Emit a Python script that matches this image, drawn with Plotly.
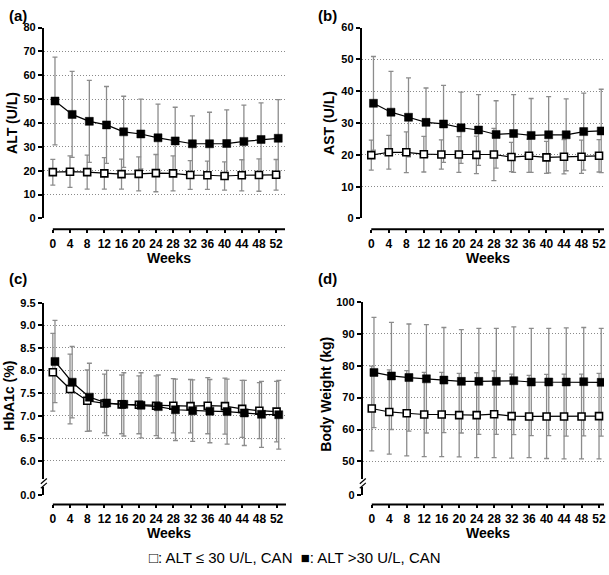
import plotly.graph_objects as go

# ---------------- data ----------------
weeks = [0, 4, 8, 12, 16, 20, 24, 28, 32, 36, 40, 44, 48, 52]

alt_low_mean = [19.4, 19.6, 19.4, 18.9, 18.6, 18.7, 19.0, 18.9, 18.2, 18.1, 17.8, 18.1, 18.2, 18.3]
alt_low_sd = [5.4, 6.6, 7.1, 6.6, 6.3, 7.1, 7.8, 7.3, 6.0, 5.9, 5.9, 6.5, 6.8, 6.4]
alt_high_mean = [49.2, 43.6, 40.7, 39.2, 36.3, 35.4, 33.8, 32.5, 31.3, 31.3, 31.4, 32.3, 33.1, 33.6]
alt_high_sd = [18.4, 18.0, 17.2, 16.1, 14.9, 14.6, 14.1, 14.1, 11.7, 13.2, 14.1, 15.2, 15.3, 16.2]

ast_low_mean = [19.9, 20.8, 20.8, 20.2, 20.1, 20.1, 20.0, 20.1, 19.3, 19.7, 19.2, 19.4, 19.4, 19.7]
ast_low_sd = [4.7, 5.3, 6.4, 5.6, 4.6, 5.6, 5.9, 8.2, 4.6, 5.2, 5.0, 5.4, 5.2, 5.1]
ast_high_mean = [36.2, 33.4, 31.8, 30.2, 29.7, 28.5, 27.8, 26.4, 26.7, 26.1, 26.3, 26.3, 27.3, 27.5]
ast_high_sd = [14.7, 12.8, 12.4, 10.8, 12.1, 11.2, 11.1, 10.6, 12.2, 11.6, 12.0, 11.3, 12.1, 13.1]

hba_low_mean = [7.96, 7.59, 7.33, 7.27, 7.25, 7.24, 7.22, 7.22, 7.21, 7.22, 7.21, 7.15, 7.11, 7.09]
hba_low_sd = [0.86, 0.77, 0.68, 0.65, 0.65, 0.64, 0.66, 0.60, 0.59, 0.62, 0.62, 0.63, 0.62, 0.67]
hba_high_mean = [8.20, 7.74, 7.41, 7.28, 7.25, 7.23, 7.20, 7.13, 7.11, 7.10, 7.09, 7.06, 7.03, 7.02]
hba_high_sd = [0.91, 0.79, 0.75, 0.72, 0.70, 0.72, 0.70, 0.68, 0.68, 0.70, 0.72, 0.72, 0.73, 0.76]

bw_low_mean = [66.6, 65.5, 65.1, 64.7, 64.7, 64.5, 64.5, 64.8, 64.2, 64.1, 64.1, 64.1, 64.1, 64.2]
bw_low_sd = [13.3, 13.2, 13.4, 13.2, 13.2, 13.1, 13.3, 13.6, 13.2, 12.9, 13.2, 13.3, 13.3, 13.4]
bw_high_mean = [77.9, 76.8, 76.3, 75.9, 75.5, 75.1, 75.1, 75.1, 75.3, 74.9, 74.9, 74.9, 75.0, 74.8]
bw_high_sd = [17.3, 16.8, 16.8, 17.0, 16.5, 16.2, 16.6, 16.6, 16.9, 16.8, 16.8, 17.0, 17.0, 16.9]

panel_letters = ["(a)", "(b)", "(c)", "(d)"]
y_titles = ["ALT (U/L)", "AST (U/L)", "HbA1c (%)", "Body Weight (kg)"]
x_title = "Weeks"
legend_text = "\u25a1: ALT \u2264 30 U/L, CAN  \u25a0: ALT >30 U/L, CAN"

# ---------------- layout geometry (pixels) ----------------
W, H = 609, 575
def px(x):
    return x / W
def py(y):
    return 1 - y / H

FONT = "Liberation Sans, Arial, sans-serif"
BLACK_DODGE = 0.5  # black series drawn slightly right of white, as in the reference
ERR_COLOR = "#8c8c8c"
GRID_COLOR = "#8a8a8a"
XTICK_SIZE = 12
YTICK_SIZE = 11
TITLE_SIZE = 14

panels = [
    dict(low=(alt_low_mean, alt_low_sd), high=(alt_high_mean, alt_high_sd),
         yx=44, t0=53, t52=277, right=286, ytop=22, ybot=217, xax=228,
         yrange=[0, 80], ticks=list(range(0, 81, 10)), grid=list(range(10, 81, 10)), fmt=None, brk=False),
    dict(low=(ast_low_mean, ast_low_sd), high=(ast_high_mean, ast_high_sd),
         yx=363, t0=372.5, t52=601, right=606, ytop=22, ybot=217, xax=228,
         yrange=[0, 60], ticks=list(range(0, 61, 10)), grid=list(range(10, 61, 10)), fmt=None, brk=False),
    dict(low=(hba_low_mean, hba_low_sd), high=(hba_high_mean, hba_high_sd),
         yx=44, t0=53, t52=277.5, right=287, ytop=303, ybot=483, xax=509,
         yrange=[5.6, 9.5], ticks=[6.0, 6.5, 7.0, 7.5, 8.0, 8.5, 9.0, 9.5],
         grid=[6.0, 6.5, 7.0, 7.5, 8.0, 8.5, 9.0, 9.5], fmt=".1f", brk=True, zero="0.0"),
    dict(low=(bw_low_mean, bw_low_sd), high=(bw_high_mean, bw_high_sd),
         yx=364, t0=373, t52=601, right=606, ytop=302.3, ybot=483, xax=509,
         yrange=[44.5, 100], ticks=list(range(50, 101, 10)), grid=list(range(50, 101, 10)), fmt=None, brk=True, zero="0"),
]

fig = go.Figure()
layout = dict(width=W, height=H, autosize=False, margin=dict(l=0, r=0, t=0, b=0),
              plot_bgcolor="white", paper_bgcolor="white", showlegend=False,
              font=dict(family=FONT, color="black"))
shapes = []
annotations = []

extra_axis = 5
for i, p in enumerate(panels):
    n = i + 1
    xa = "x" if n == 1 else f"x{n}"
    ya = "y" if n == 1 else f"y{n}"
    xkey = "xaxis" if n == 1 else f"xaxis{n}"
    ykey = "yaxis" if n == 1 else f"yaxis{n}"
    ppw = (p["t52"] - p["t0"]) / 52.0
    xmin = -(p["t0"] - p["yx"]) / ppw
    xmax = 52 + (p["right"] - p["t52"]) / ppw

    layout[xkey] = dict(domain=[px(p["yx"]), px(p["right"])], range=[xmin, xmax],
                        anchor="free", position=py(p["xax"]), showline=False, showgrid=False,
                        zeroline=False, tickvals=weeks, ticks="outside", ticklen=3, tickwidth=1.5,
                        tickcolor="black", ticklabeloverflow="allow",
                        tickfont=dict(family=FONT, size=XTICK_SIZE, weight="bold"))
    layout[ykey] = dict(domain=[py(p["ybot"]), py(p["ytop"])], range=p["yrange"], anchor=xa,
                        showline=True, linewidth=2, linecolor="black", zeroline=False,
                        showgrid=False, tickvals=p["ticks"], ticks="outside", ticklen=4,
                        tickwidth=1.5, tickcolor="black",
                        tickfont=dict(family=FONT, size=YTICK_SIZE, weight="bold"))
    if p["fmt"]:
        layout[ykey]["tickformat"] = p["fmt"]

    # overlay axis carrying the dotted grid lines only
    gk = f"yaxis{extra_axis}"
    gref = f"y{extra_axis}"
    extra_axis += 1
    layout[gk] = dict(domain=[py(p["ybot"]), py(p["ytop"])], range=p["yrange"], anchor=xa,
                      overlaying=ya, matches=ya, showline=False, zeroline=False,
                      showticklabels=False, ticks="", tickvals=p["grid"], showgrid=True,
                      gridcolor=GRID_COLOR, gridwidth=1, griddash="1px,2px")
    fig.add_trace(go.Scatter(x=[None], y=[None], xaxis=xa, yaxis=gref, hoverinfo="skip"))

    # x axis line starting at week 0 (offset Prism-style axis)
    shapes.append(dict(type="line", xref=xa, yref="paper", x0=0, x1=xmax,
                       y0=py(p["xax"]), y1=py(p["xax"]), line=dict(color="black", width=2)))

    if p["brk"]:
        sk = f"yaxis{extra_axis}"
        sref = f"y{extra_axis}"
        extra_axis += 1
        layout[sk] = dict(domain=[py(499.5), py(491)], range=[0, 1], anchor=xa,
                          showline=True, linewidth=2, linecolor="black", zeroline=False,
                          showgrid=False, tickvals=[0], ticktext=[p["zero"]], ticks="outside",
                          ticklen=4, tickwidth=1.5, tickcolor="black",
                          tickfont=dict(family=FONT, size=YTICK_SIZE, weight="bold"))
        fig.add_trace(go.Scatter(x=[None], y=[None], xaxis=xa, yaxis=sref, hoverinfo="skip"))
        # axis break marks
        bx = p["yx"]
        for dy in (0, 4.5):
            shapes.append(dict(type="line", xref="paper", yref="paper",
                               x0=px(bx - 3), y0=py(488 + dy), x1=px(bx + 3), y1=py(482.5 + dy),
                               line=dict(color="black", width=1.2)))

    lo_m, lo_s = p["low"]
    hi_m, hi_s = p["high"]
    xb = [w + BLACK_DODGE for w in weeks]
    # error bars first (behind markers)
    for xs, m, s in ((weeks, lo_m, lo_s), (xb, hi_m, hi_s)):
        fig.add_trace(go.Scatter(x=xs, y=m, mode="markers", xaxis=xa, yaxis=ya,
                                 marker=dict(size=1, color="rgba(0,0,0,0)"),
                                 error_y=dict(type="data", array=s, visible=True, color=ERR_COLOR,
                                              thickness=1.3, width=2.5),
                                 hoverinfo="skip"))
    fig.add_trace(go.Scatter(x=weeks, y=lo_m, mode="lines+markers", xaxis=xa, yaxis=ya,
                             line=dict(color="black", width=1.2),
                             marker=dict(symbol="square", size=7, color="white",
                                         line=dict(color="black", width=1.6))))
    fig.add_trace(go.Scatter(x=xb, y=hi_m, mode="lines+markers", xaxis=xa, yaxis=ya,
                             line=dict(color="black", width=1.2),
                             marker=dict(symbol="square", size=8, color="black",
                                         line=dict(color="black", width=0.5))))

    # text
    col_left = 7 if i % 2 == 0 else 317
    top = 10 if i < 2 else 278
    annotations.append(dict(text=f"<b>{panel_letters[i]}</b>", xref="paper", yref="paper",
                            x=px(col_left), y=py(top), xanchor="left", yanchor="middle",
                            showarrow=False, font=dict(family=FONT, size=15)))
    ytx = [12, 330, 9, 327][i]
    yty = [119.5, 119.5, 398, 396][i]
    annotations.append(dict(text=f"<b>{y_titles[i]}</b>", xref="paper", yref="paper",
                            x=px(ytx), y=py(yty), xanchor="center", yanchor="middle",
                            textangle=-90, showarrow=False, font=dict(family=FONT, size=TITLE_SIZE)))
    wx = (p["t0"] + p["right"]) / 2
    wy = 257.5 if i < 2 else 538.5
    annotations.append(dict(text=f"<b>{x_title}</b>", xref="paper", yref="paper",
                            x=px(wx), y=py(wy), xanchor="center", yanchor="middle",
                            showarrow=False, font=dict(family=FONT, size=TITLE_SIZE)))

annotations.append(dict(text=legend_text, xref="paper", yref="paper", x=px(296), y=py(563),
                        xanchor="center", yanchor="middle", showarrow=False,
                        font=dict(family=FONT, size=15)))

layout["shapes"] = shapes
layout["annotations"] = annotations
fig.update_layout(**layout)
# remove the browser's default 8px body margin so the figure sits at the page origin
fig.write_html("out.html", config={"displayModeBar": False},
               post_script="document.body.style.margin='0';")
